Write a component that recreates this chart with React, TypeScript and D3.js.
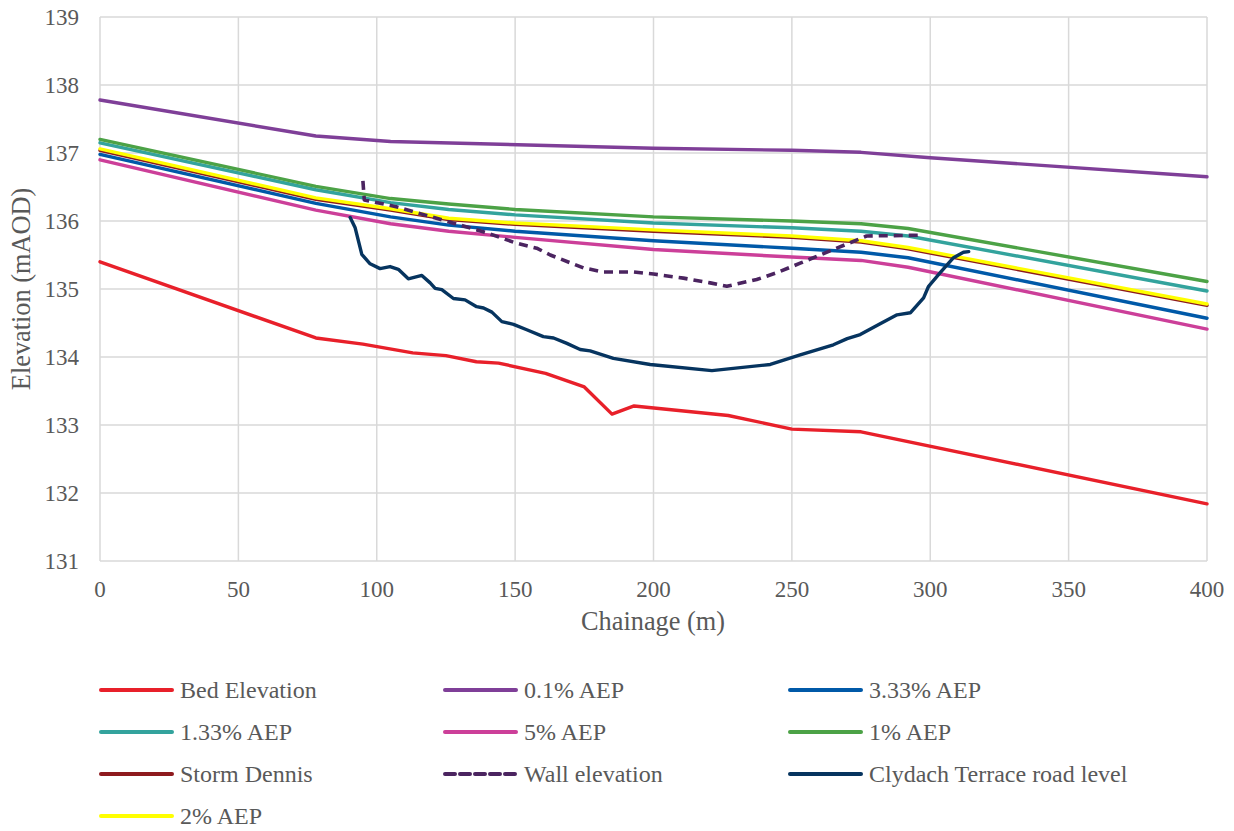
import React from "react";
import * as d3 from "d3";

const knotsA = [0, 78, 105, 126, 150, 200, 250, 275, 292, 400];
const aep1 = [137.2, 136.51, 136.33, 136.25, 136.17, 136.06, 136.0, 135.96, 135.89, 135.11];
const aep133 = [137.15, 136.46, 136.27, 136.17, 136.09, 135.97, 135.9, 135.85, 135.78, 134.97];
const aep2 = [137.06, 136.34, 136.18, 136.04, 135.97, 135.87, 135.78, 135.71, 135.61, 134.78];
const stormDennis = [137.04, 136.32, 136.16, 136.02, 135.95, 135.85, 135.76, 135.69, 135.59, 134.76];
const aep333 = [136.98, 136.26, 136.06, 135.94, 135.85, 135.71, 135.6, 135.54, 135.46, 134.57];
const aep5 = [136.9, 136.16, 135.96, 135.85, 135.76, 135.58, 135.47, 135.42, 135.32, 134.41];

const knotsP = [0, 78, 105, 200, 250, 275, 300, 400];
const aep01 = [137.78, 137.25, 137.17, 137.07, 137.04, 137.01, 136.93, 136.65];

const bedX = [0, 78, 95, 113, 125, 136, 144, 161, 175, 185, 193, 227, 250, 275, 400];
const bedY = [135.4, 134.28, 134.19, 134.06, 134.02, 133.93, 133.91, 133.76, 133.56, 133.16, 133.28, 133.14, 132.94, 132.9, 131.84];

const wallX = [95, 95.5, 107, 119, 131, 139.5, 150, 157.8, 162.7, 174.7, 181.9, 192.8, 200, 210.8, 220.5, 226.5, 237.3, 244.6, 253, 259, 271, 277, 296];
const wallY = [136.59, 136.31, 136.21, 136.07, 135.93, 135.83, 135.68, 135.6, 135.5, 135.31, 135.25, 135.25, 135.22, 135.16, 135.09, 135.04, 135.14, 135.24, 135.38, 135.48, 135.68, 135.78, 135.79];

const roadX = [90.4, 92.2, 94.6, 97.6, 101.2, 104.8, 107.8, 111.4, 116.3, 119.3, 121.1, 123.5, 127.7, 131.9, 136.1, 138.6, 141.6, 145.2, 149.4, 154.2, 160.2, 163.9, 168.7, 173.5, 177.1, 185.5, 198.8, 221.1, 242.2, 253, 265, 270, 274.7, 281.9, 288, 292.8, 297.6, 299.4, 303.6, 308.4, 312, 313.9];
const roadY = [136.05, 135.9, 135.51, 135.37, 135.3, 135.33, 135.29, 135.15, 135.2, 135.09, 135.01, 134.99, 134.86, 134.84, 134.74, 134.72, 134.66, 134.52, 134.48, 134.4, 134.3, 134.28, 134.2, 134.11, 134.09, 133.98, 133.89, 133.8, 133.89, 134.03, 134.18, 134.27, 134.33, 134.49, 134.62, 134.65, 134.87, 135.04, 135.24, 135.46, 135.54, 135.55];

const xTicks = [0, 50, 100, 150, 200, 250, 300, 350, 400];
const yTicks = [131, 132, 133, 134, 135, 136, 137, 138, 139];

type Series = { name: string; xs: number[]; ys: number[]; color: string; dash?: string };

const legendOrder: Series[] = [
  { name: "Bed Elevation", xs: bedX, ys: bedY, color: "#E8202A" },
  { name: "0.1% AEP", xs: knotsP, ys: aep01, color: "#7F3F98" },
  { name: "3.33% AEP", xs: knotsA, ys: aep333, color: "#0059A8" },
  { name: "1.33% AEP", xs: knotsA, ys: aep133, color: "#33A39D" },
  { name: "5% AEP", xs: knotsA, ys: aep5, color: "#CC3F99" },
  { name: "1% AEP", xs: knotsA, ys: aep1, color: "#4CA246" },
  { name: "Storm Dennis", xs: knotsA, ys: stormDennis, color: "#8E1A1E" },
  { name: "Wall elevation", xs: wallX, ys: wallY, color: "#4B2460", dash: "9,6" },
  { name: "Clydach Terrace road level", xs: roadX, ys: roadY, color: "#06345F" },
  { name: "2% AEP", xs: knotsA, ys: aep2, color: "#FFFF00" },
];

const drawOrder = [0, 1, 2, 3, 4, 5, 6, 9, 7, 8];

export default function App() {
  const W = 1234;
  const H = 831;
  const left = 100;
  const right = 1207;
  const top = 17;
  const bottom = 561;
  const x = d3.scaleLinear().domain([0, 400]).range([left, right]);
  const y = d3.scaleLinear().domain([131, 139]).range([bottom, top]);
  const font = '"Liberation Serif", "Times New Roman", "DejaVu Serif", serif';
  const textColor = "#595959";
  const tStyle = { fontFamily: font };

  const lineGen = d3
    .line<[number, number]>()
    .x((d) => x(d[0]))
    .y((d) => y(d[1]));

  const legCols = [101, 445, 790];
  const legRows = [690, 732, 774, 816];

  return (
    <svg width={W} height={H} style={{ position: "absolute", left: 0, top: 0, background: "#fff" }}>
      <rect x={0} y={0} width={W} height={H} fill="#fff" />
      {xTicks.map((t) => (
        <line key={"gx" + t} x1={x(t)} x2={x(t)} y1={top} y2={bottom} stroke="#d9d9d9" strokeWidth={1.5} />
      ))}
      {yTicks.map((t) => (
        <line key={"gy" + t} x1={left} x2={right} y1={y(t)} y2={y(t)} stroke="#d9d9d9" strokeWidth={1.5} />
      ))}
      {yTicks.map((t) => (
        <text key={"ty" + t} x={79} y={y(t)} dy="0.35em" textAnchor="end" style={tStyle} fontSize={23} fill={textColor}>
          {t}
        </text>
      ))}
      {xTicks.map((t) => (
        <text key={"tx" + t} x={x(t)} y={597} textAnchor="middle" style={tStyle} fontSize={23} fill={textColor}>
          {t}
        </text>
      ))}
      <text x={653} y={630} textAnchor="middle" style={tStyle} fontSize={26.3} fill={textColor}>
        Chainage (m)
      </text>
      <text
        transform={`translate(30,${(top + bottom) / 2}) rotate(-90)`}
        textAnchor="middle"
        style={tStyle}
        fontSize={26.3}
        fill={textColor}
      >
        Elevation (mAOD)
      </text>
      {drawOrder.map((i) => {
        const s = legendOrder[i];
        const pts = s.xs.map((v, k) => [v, s.ys[k]] as [number, number]);
        return (
          <path
            key={"s" + i}
            d={lineGen(pts) || ""}
            fill="none"
            stroke={s.color}
            strokeWidth={s.dash ? 3.6 : 3.4}
            strokeDasharray={s.dash}
            strokeLinejoin="round"
            strokeLinecap={s.dash ? "butt" : "round"}
          />
        );
      })}
      {legendOrder.map((s, i) => {
        const cx = legCols[i % 3];
        const cy = legRows[Math.floor(i / 3)];
        return (
          <g key={"l" + i}>
            <line
              x1={cx}
              x2={cx + 71}
              y1={cy}
              y2={cy}
              stroke={s.color}
              strokeWidth={4}
              strokeDasharray={s.dash ? "10,5" : undefined}
              strokeLinecap="round"
            />
            <text x={cx + 79} y={cy} dy="0.35em" style={tStyle} fontSize={24} fill={textColor}>
              {s.name}
            </text>
          </g>
        );
      })}
    </svg>
  );
}
